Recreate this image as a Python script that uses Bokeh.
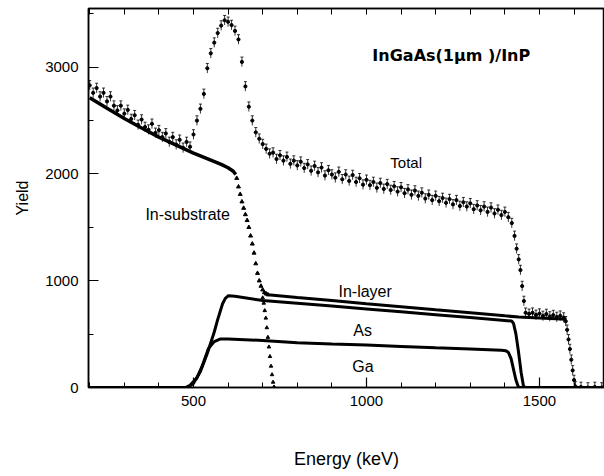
import math
from bokeh.plotting import figure
from bokeh.models import Range1d, LinearAxis, Label, Whisker, ColumnDataSource, TeeHead, FixedTicker
from bokeh.embed import file_html
from bokeh.resources import INLINE

# ---------------- data ----------------
total_energy = [200, 210, 220, 230, 240, 250, 260, 270, 280, 290, 300, 310, 320, 330, 340, 350, 360, 370, 380, 390,
                400, 410, 420, 430, 440, 450, 460, 470, 480, 490, 500, 510, 520, 530, 540, 550, 560, 570, 580, 590,
                600, 610, 620, 630, 640, 650, 660, 670, 680, 690, 700, 710, 720, 730, 740, 750, 760, 770, 780, 790,
                800, 810, 820, 830, 840, 850, 860, 870, 880, 890, 900, 910, 920, 930, 940, 950, 960, 970, 980, 990,
                1000, 1010, 1020, 1030, 1040, 1050, 1060, 1070, 1080, 1090, 1100, 1110, 1120, 1130, 1140, 1150,
                1160, 1170, 1180, 1190, 1200, 1210, 1220, 1230, 1240, 1250, 1260, 1270, 1280, 1290, 1300, 1310,
                1320, 1330, 1340, 1350, 1360, 1370, 1380, 1390, 1400, 1410, 1420, 1428, 1434, 1440, 1445, 1450,
                1455, 1460, 1470, 1480, 1490, 1500, 1510, 1520, 1530, 1540, 1550, 1560, 1570, 1576, 1580, 1584,
                1588, 1592, 1596, 1600, 1604, 1620, 1640, 1660, 1680]
total_yield = [2830, 2760, 2805, 2725, 2760, 2680, 2725, 2640, 2595, 2640, 2565, 2600, 2515, 2550, 2460, 2510, 2440, 2415, 2470, 2385,
               2410, 2345, 2380, 2300, 2345, 2275, 2320, 2245, 2300, 2255, 2370, 2500, 2610, 2750, 2990, 3130, 3230, 3320, 3390, 3440,
               3425, 3395, 3340, 3260, 3050, 2820, 2630, 2500, 2390, 2330, 2280, 2235, 2190, 2200, 2140, 2175, 2125, 2160, 2095, 2125,
               2080, 2115, 2055, 2090, 2030, 2075, 2015, 2060, 1985, 2035, 1995, 1965, 2020, 1950, 1995, 1935, 1990, 1925, 1960, 1900,
               1945, 1895, 1925, 1870, 1915, 1860, 1905, 1850, 1885, 1835, 1875, 1820, 1855, 1805, 1845, 1795,
               1825, 1770, 1805, 1755, 1795, 1745, 1775, 1730, 1765, 1715, 1755, 1700, 1735, 1695, 1725, 1670,
               1705, 1660, 1695, 1645, 1685, 1630, 1665, 1615, 1645, 1595, 1540, 1420, 1300, 1200, 1100, 950,
               810, 700, 690, 700, 680, 692, 670, 688, 665, 678, 660, 672, 655, 620, 540, 450,
               360, 260, 160, 70, 10, 5, 0, 5, 0]
total_err = 45

substrate_energy = [200, 250, 300, 350, 400, 450, 500, 550, 580, 600, 615, 622]
substrate_yield = [2715, 2615, 2520, 2430, 2345, 2270, 2195, 2130, 2090, 2058, 2025, 1995]

substrate_edge_energy = [625, 630, 635, 640, 645, 650, 655, 660, 665, 670, 675, 680, 685, 690, 695, 700, 705, 710, 715]
substrate_edge_yield = [1960, 1880, 1810, 1740, 1680, 1620, 1565, 1500, 1420, 1345, 1260, 1160, 1070, 1000, 950, 915, 890, 878, 870]

substrate_only_energy = [700, 703, 706, 709, 712, 715, 718, 721, 724, 727, 730, 733]
substrate_only_yield = [840, 790, 720, 650, 560, 470, 380, 290, 200, 120, 50, 5]

inlayer_energy = [715, 800, 900, 1000, 1100, 1200, 1300, 1400, 1440, 1500, 1578]
inlayer_yield = [868, 842, 814, 785, 757, 728, 700, 671, 660, 650, 640]

as_energy = [200, 483, 500, 520, 540, 560, 569, 584, 592, 601, 620, 700, 809, 900, 1000, 1100, 1200, 1300,
             1400, 1420, 1425, 1432, 1440, 1447, 1454, 1460, 1690]
as_yield = [0, 0, 40, 150, 320, 520, 626, 785, 835, 860, 855, 815, 787, 763, 736, 709, 682, 655,
            628, 622, 600, 500, 320, 140, 10, 0, 0]

ga_energy = [200, 477, 490, 510, 525, 543, 560, 578, 600, 700, 800, 900, 1000, 1100, 1200, 1300, 1390,
             1402, 1410, 1418, 1425, 1432, 1439, 1445, 1690]
ga_yield = [0, 0, 20, 90, 200, 364, 430, 455, 455, 440, 420, 408, 398, 385, 372, 360, 348,
            345, 330, 270, 170, 70, 5, 0, 0]

x_major = [500, 1000, 1500]
x_minor = [200, 300, 400, 600, 700, 800, 900, 1100, 1200, 1300, 1400, 1600]
y_major = [0, 1000, 2000, 3000]
y_minor = [500, 1500, 2500, 3500]

# ---------------- figure ----------------
p = figure(width=604, height=476, output_backend="svg", toolbar_location=None,
           x_range=Range1d(196.5, 1688), y_range=Range1d(0, 3550),
           min_border_left=88, min_border_right=0, min_border_top=8, min_border_bottom=89)
p.grid.visible = False
p.outline_line_color = "black"
p.outline_line_width = 1.5
p.background_fill_color = "white"
p.border_fill_color = "white"

tick_font = "Liberation Sans"

def style_axis(ax):
    ax.axis_line_color = "black"
    ax.axis_line_width = 1.5
    ax.major_tick_in = 10
    ax.major_tick_out = 0
    ax.minor_tick_in = 5
    ax.minor_tick_out = 0
    ax.major_tick_line_color = "black"
    ax.minor_tick_line_color = "black"
    ax.major_tick_line_width = 1.2
    ax.minor_tick_line_width = 1.0
    ax.major_label_text_font = tick_font
    ax.major_label_text_color = "black"
    ax.major_label_text_font_size = "15px"
    ax.major_label_standoff = 8

p.xaxis.ticker = FixedTicker(ticks=x_major, minor_ticks=x_minor)
p.yaxis.ticker = FixedTicker(ticks=y_major, minor_ticks=y_minor)
for ax in p.xaxis:
    style_axis(ax)
for ax in p.yaxis:
    style_axis(ax)
    ax.major_label_standoff = 10
    ax.axis_label = "Yield"
    ax.axis_label_text_font = "Liberation Sans"
    ax.axis_label_text_font_size = "16px"
    ax.axis_label_text_font_style = "normal"
    ax.axis_label_text_color = "black"
    ax.axis_label_standoff = 11

# top axis: ticks only (all as unlabeled minor ticks)
top = LinearAxis(ticker=FixedTicker(ticks=[], minor_ticks=x_major + x_minor))
top.axis_line_color = "black"
top.axis_line_width = 1.5
top.minor_tick_in = 6
top.minor_tick_out = 0
top.major_tick_in = 0
top.major_tick_out = 0
top.minor_tick_line_color = "black"
top.major_label_standoff = 0
p.add_layout(top, "above")

# second (invisible) bottom axis that only carries the x title lower down
xlab = LinearAxis(ticker=FixedTicker(ticks=[], minor_ticks=[]))
xlab.axis_line_color = None
xlab.major_tick_line_color = None
xlab.minor_tick_line_color = None
xlab.major_tick_in = 0
xlab.major_tick_out = 0
xlab.minor_tick_in = 0
xlab.minor_tick_out = 0
xlab.major_label_standoff = 0
xlab.axis_label = "Energy (keV)"
xlab.axis_label_text_font = "Liberation Sans"
xlab.axis_label_text_font_size = "18px"
xlab.axis_label_text_font_style = "normal"
xlab.axis_label_text_color = "black"
xlab.axis_label_standoff = 40
p.add_layout(xlab, "below")

# ---------------- glyphs ----------------
src_total = ColumnDataSource(dict(x=total_energy, y=total_yield,
                                  upper=[v + total_err for v in total_yield],
                                  lower=[v - total_err for v in total_yield]))
p.add_layout(Whisker(source=src_total, base="x", upper="upper", lower="lower",
                     line_color="black", line_width=0.8,
                     upper_head=TeeHead(size=3, line_color="black", line_width=0.8),
                     lower_head=None))
p.scatter("x", "y", source=src_total, size=3.2, color="black")

p.line(substrate_energy, substrate_yield, line_width=3.5, color="black")
p.scatter(substrate_edge_energy, substrate_edge_yield, marker="triangle", size=4, color="black")
p.scatter(substrate_only_energy, substrate_only_yield, marker="triangle", size=3.5, color="black")
p.line(inlayer_energy, inlayer_yield, line_width=3, color="black")
p.line(as_energy, as_yield, line_width=3, color="black")
p.line(ga_energy, ga_yield, line_width=3, color="black")

# ---------------- texts ----------------
def add_text(x, y, text, size, font="Liberation Sans", style="normal", align="left"):
    p.add_layout(Label(x=x, y=y, text=text, text_font=font, text_font_size=size,
                       text_font_style=style, text_align=align, text_baseline="middle",
                       text_color="black"))

add_text(1017, 3108, "InGaAs(1\u00b5m )/InP", "16px", font="DejaVu Sans", style="bold")
add_text(1069, 2107, "Total", "15px")
add_text(361, 1620, "In-substrate", "16px")
add_text(919, 899, "In-layer", "16px")
add_text(962, 534, "As", "16px")
add_text(959, 197, "Ga", "16px")

open("out.html", "w").write(file_html(p, INLINE))
